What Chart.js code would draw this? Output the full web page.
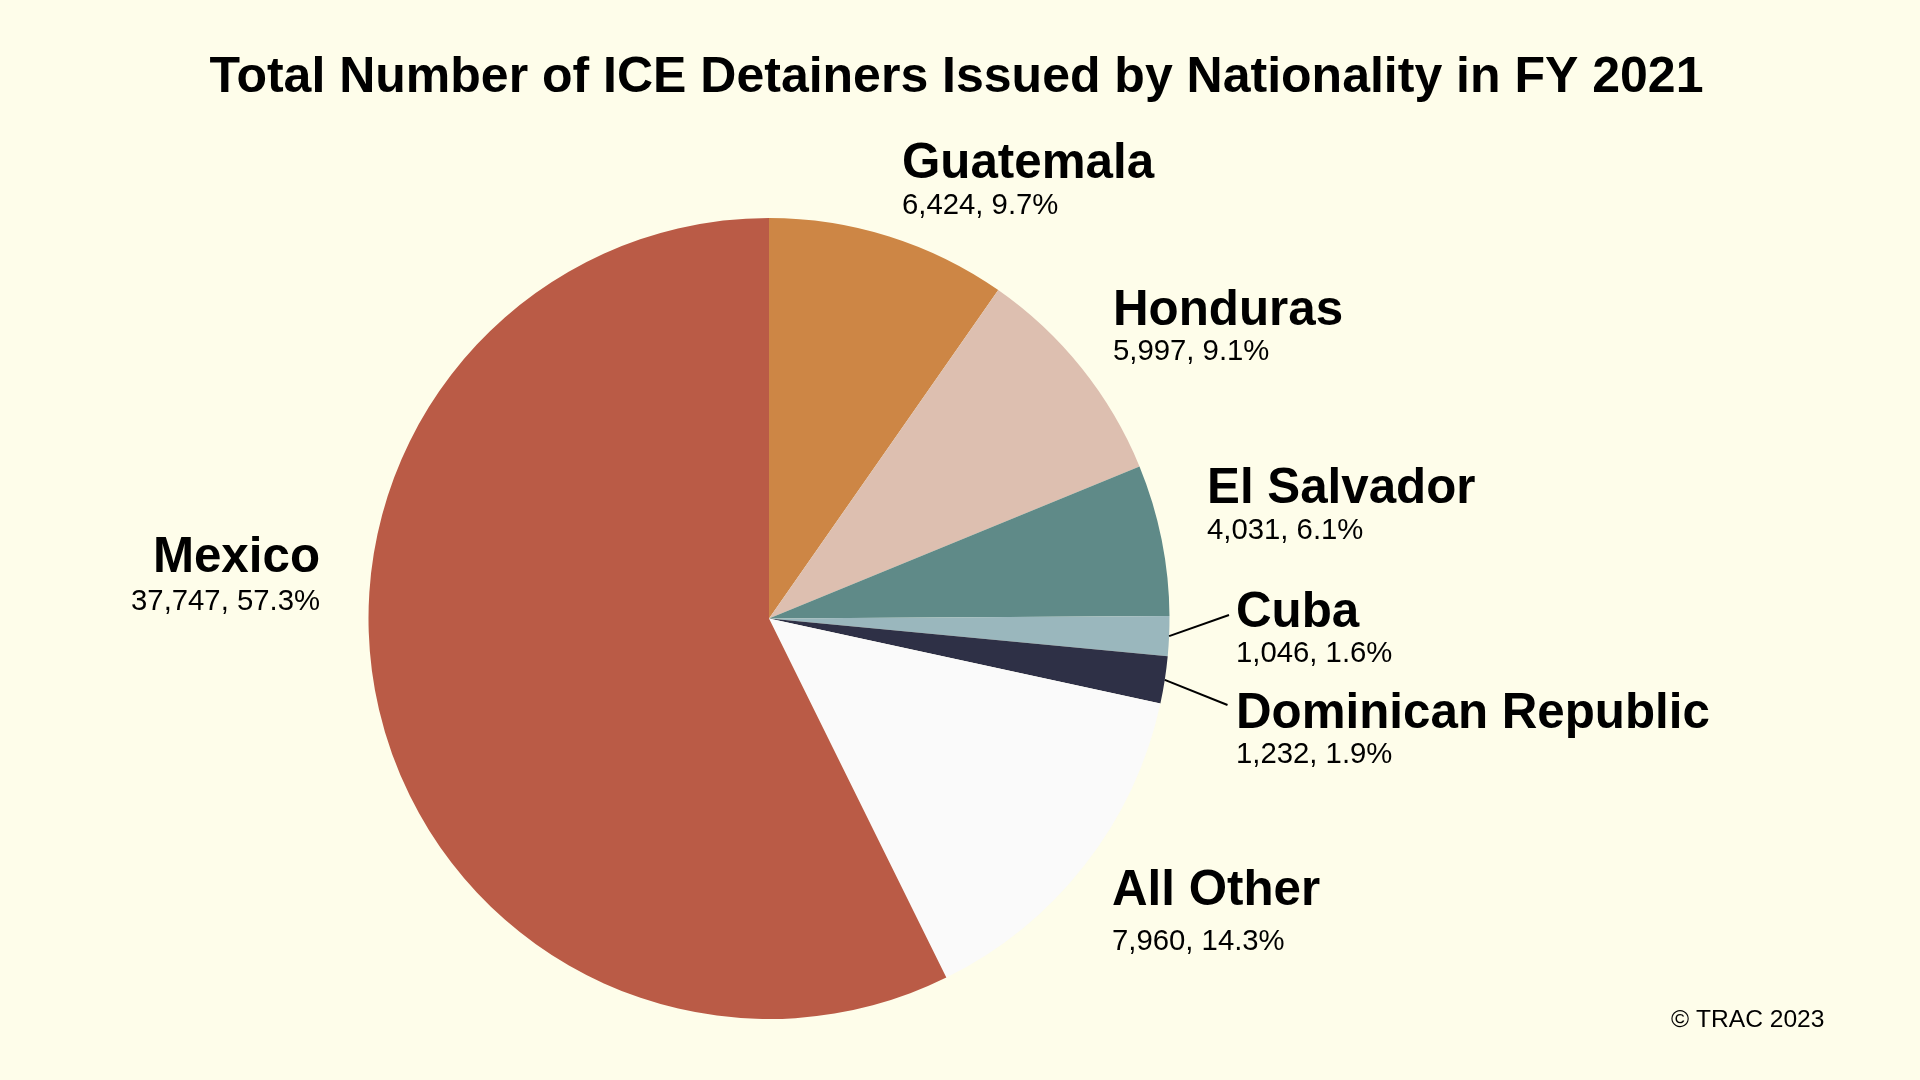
<!DOCTYPE html>
<html>
<head>
<meta charset="utf-8">
<script src="https://cdn.jsdelivr.net/npm/chart.js@4/dist/chart.umd.min.js"></script>
<style>
  html, body { margin: 0; padding: 0; background: #FEFDEA; }
  #wrap { position: absolute; left: 0; top: 0; width: 1920px; height: 1080px; }
</style>
</head>
<body>
<div id="wrap"><canvas id="c" width="1920" height="1080"></canvas></div>
<script>
// ---- data ----
const categories = ["Guatemala", "Honduras", "El Salvador", "Cuba", "Dominican Republic", "All Other", "Mexico"];
const counts = [6424, 5997, 4031, 1046, 1232, 7960, 37747];
const percents = [9.7, 9.1, 6.1, 1.6, 1.9, 14.3, 57.3];
const sliceColors = ["#CD8645", "#DDBFB0", "#5F8A88", "#9AB7BD", "#2E3046", "#FAFAFA", "#BA5B46"];
const titleText = "Total Number of ICE Detainers Issued by Nationality in FY 2021";
const creditText = "\u00A9 TRAC 2023";

// ---- label layout (relative to pie centre) ----
const labelLayout = [
  { dx: 133, dy: -440.5, vdy: -404.5, align: "left" },
  { dx: 344, dy: -293.5, vdy: -258.5, align: "left" },
  { dx: 438, dy: -115.5, vdy: -79.5, align: "left" },
  { dx: 467, dy: 8.5, vdy: 43.5, align: "left", line: [460, -3.5] },
  { dx: 467, dy: 109.5, vdy: 144.5, align: "left", line: [458.5, 86.5] },
  { dx: 343, dy: 286.5, vdy: 331.5, align: "left" },
  { dx: -449, dy: -46.5, vdy: -8.5, align: "right" }
];

const FONT = '"Liberation Sans", Arial, Helvetica, sans-serif';

const bgPlugin = {
  id: "bg",
  beforeDraw(chart) {
    const ctx = chart.ctx;
    ctx.save();
    ctx.fillStyle = "#FEFDEA";
    ctx.fillRect(0, 0, chart.width, chart.height);
    ctx.restore();
  }
};

const labelPlugin = {
  id: "labels",
  afterDraw(chart) {
    const ctx = chart.ctx;
    const meta = chart.getDatasetMeta(0);
    ctx.save();
    // title
    ctx.fillStyle = "#000";
    ctx.textBaseline = "alphabetic";
    ctx.textAlign = "center";
    ctx.font = "bold 50px " + FONT;
    ctx.fillText(titleText, 956.5, 92);
    // credit
    ctx.textAlign = "left";
    ctx.font = "24.6px " + FONT;
    ctx.fillText(creditText, 1671, 1027);

    meta.data.forEach((arc, i) => {
      const p = arc.getProps(["x", "y", "startAngle", "endAngle", "outerRadius"], true);
      const L = labelLayout[i];
      const cx = p.x, cy = p.y;
      if (L.line) {
        const mid = (p.startAngle + p.endAngle) / 2;
        const sx = cx + Math.cos(mid) * p.outerRadius;
        const sy = cy + Math.sin(mid) * p.outerRadius;
        ctx.beginPath();
        ctx.strokeStyle = "#000";
        ctx.lineWidth = 2;
        ctx.moveTo(sx, sy);
        ctx.lineTo(cx + L.line[0], cy + L.line[1]);
        ctx.stroke();
      }
      ctx.textAlign = L.align;
      ctx.fillStyle = "#000";
      ctx.font = "bold 49.3px " + FONT;
      ctx.fillText(categories[i], cx + L.dx, cy + L.dy);
      ctx.font = "29.3px " + FONT;
      ctx.fillText(counts[i].toLocaleString("en-US") + ", " + percents[i].toFixed(1) + "%", cx + L.dx, cy + L.vdy);
    });
    ctx.restore();
  }
};

new Chart(document.getElementById("c"), {
  type: "pie",
  data: {
    labels: categories,
    datasets: [{
      data: percents,
      backgroundColor: sliceColors,
      borderWidth: 0,
      hoverOffset: 0
    }]
  },
  options: {
    responsive: false,
    animation: false,
    devicePixelRatio: 1,
    layout: { padding: { left: 368, right: 750, top: 218, bottom: 61 } },
    plugins: {
      legend: { display: false },
      tooltip: { enabled: false },
      title: { display: false }
    },
    events: []
  },
  plugins: [bgPlugin, labelPlugin]
});
</script>
</body>
</html>
